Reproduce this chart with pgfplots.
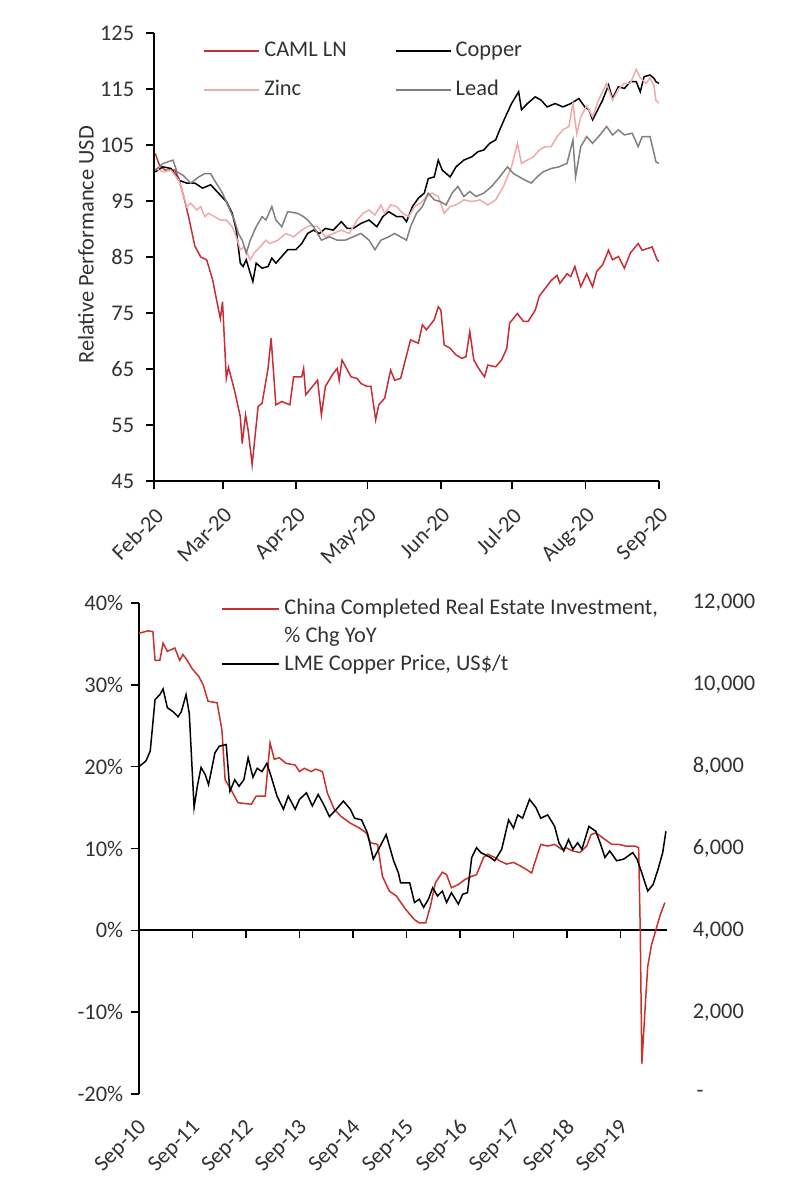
\documentclass[border=0pt]{standalone}
\usepackage{pgfplots}
\pgfplotsset{compat=1.18}
\usepackage{fontspec}
\setmainfont{Carlito}
\definecolor{camlred}{RGB}{200,45,55}
\definecolor{zincpink}{RGB}{240,170,170}
\definecolor{leadgrey}{RGB}{128,128,128}
\definecolor{rered}{RGB}{200,50,40}
\definecolor{txt}{RGB}{50,50,50}
\begin{document}
\begin{tikzpicture}
\fontsize{11.2}{13.5}\selectfont
\path[use as bounding box] (0,0) rectangle (405pt,600pt);
% ---------------- top chart ----------------
\begin{axis}[
  at={(77pt,359.5pt)}, anchor=south west,
  width=252.5pt, height=224pt, scale only axis,
  xmin=0, xmax=213, ymin=45, ymax=125,
  axis x line=bottom, axis y line=left,
  axis line style={-, line width=1pt, black},
  xtick={0,29,60,90,121,151,182,213},
  xticklabels={Feb-20,Mar-20,Apr-20,May-20,Jun-20,Jul-20,Aug-20,Sep-20},
  ytick={45,55,...,125},
  /pgf/number format/assume math mode=true,
  tick align=outside, major tick length=4pt,
  tick style={black, line width=0.8pt},
  every tick label/.append style={font=\fontsize{11.2}{13.5}\selectfont, text=txt},
  xticklabel style={yshift=-7pt, rotate=45, anchor=north east, inner sep=1pt},
  yticklabel style={xshift=-2pt},
  ylabel={Relative Performance USD},
  ylabel style={at={(axis description cs:-0.135,0.527)}, anchor=center, font=\fontsize{11.2}{13.5}\selectfont, text=txt},
  legend columns=2,
  legend cell align=left,
  legend style={at={(axis description cs:0.085,0.998)}, anchor=north west, draw=none, fill=none,
    font=\fontsize{11.2}{13.5}\selectfont, text=txt,
    /tikz/every even column/.append style={column sep=22pt},
    row sep=6pt},
  legend image code/.code={\draw[#1, line width=1pt] (0pt,0pt) -- (27.5pt,0pt);},
  every axis plot/.append style={line width=0.75pt},
  clip=true,
]
\addplot[camlred] coordinates {(0.5,103.5)(2.2,101.5)(4.7,100.5)(8.8,100.5)(10.5,99)(13,95)(14.7,92)(17.2,87)(19.7,85)(22.2,84.5)(24.7,81)(26.4,77.3)(28,74)(28.9,77)(30.5,63.3)(31.4,65.3)(33.9,61.3)(36.4,56.5)(37.2,51.7)(38.6,56.8)(39.7,54.1)(41.4,47.9)(43.9,58.3)(45.6,58.9)(48.1,65.1)(49.4,70.5)(51.4,58.6)(53.9,59.2)(57.3,58.6)(58.9,63.6)(62.3,63.6)(63.1,65.1)(64,60.4)(69,63)(70.6,56.8)(72.3,61.9)(75.6,64.2)(77.3,65.1)(78.1,63)(79.3,66.6)(83.1,63.6)(85.7,63.3)(87.3,62.4)(89.8,61.9)(91.5,61.9)(93.5,55.9)(94.8,58.6)(97.3,59.8)(99.8,64.8)(101.5,63)(104,63.3)(108.2,70.2)(111.5,69.6)(113.2,72.9)(114.9,72)(118.2,73.8)(119.9,76.1)(121,75.5)(122.4,69.3)(124.9,68.7)(127.4,67.5)(129.9,66.9)(131.6,67.2)(133.2,71.7)(134.9,66.6)(137.4,64.8)(139.4,63.6)(140.8,65.7)(144.1,65.4)(146.6,66.6)(148.8,68.7)(150,73.2)(153.3,74.9)(155.8,73.5)(157.8,73.5)(160.8,75.5)(162.5,78)(165,79.4)(167.5,80.8)(170,81.7)(171.2,80.3)(174.2,82)(175.8,81.5)(177.5,83.3)(180,79.7)(182.5,82)(185,79.7)(186.7,82.4)(189.2,83.6)(191.7,86.2)(193.4,84.5)(195.9,85.1)(198.4,83)(200.9,85.7)(204.2,87.4)(205.9,86.2)(210.1,86.8)(212.2,84.5)(213,84.2)};
\addlegendentry{CAML LN}
\addplot[black] coordinates {(0.5,100.2)(3.8,101.1)(7.2,100.8)(10.5,98.7)(13.8,98.2)(17.2,98.2)(20.5,97.3)(23.9,97.9)(27.2,96.4)(30.5,94.9)(33,92.8)(34.7,89.8)(36.4,83.9)(37.6,83.3)(38.9,84.5)(40.6,82.1)(41.7,80.6)(43.1,83.9)(45.6,83)(48.1,83.3)(49.7,84.8)(51.4,83.9)(53.9,85.1)(56.4,86.3)(59.8,86.3)(62.3,87.4)(64.8,89.2)(67.3,89.8)(69.8,89.2)(72.3,90.1)(75.6,89.8)(79,91.3)(81.5,90.1)(84,90.1)(87.3,91)(90.7,91.6)(94,90.4)(96.5,92.2)(99,93.1)(102.4,92.2)(104.9,92.2)(106.5,91.3)(109,94)(111.5,95.5)(114,96.4)(115.7,99)(118.2,99.3)(119.9,102.3)(121.6,100.5)(124.9,99.3)(127.4,101.1)(130.7,102.3)(134.1,102.9)(136.6,103.8)(139.1,104.1)(141.6,105.3)(144.1,105.9)(145.8,107.7)(148.3,110.1)(150.8,112.4)(153.8,114.5)(155,111.3)(157.5,112.4)(160.8,113.6)(163.3,113)(165.8,111.8)(169.2,112.4)(172.5,111.8)(175.8,112.4)(179.2,113.3)(181.7,111.8)(183.4,111.3)(185,109.5)(186.7,110.9)(189.2,113)(191.7,115.7)(193.4,113.3)(195.9,115.4)(198.4,115.1)(200.9,116.3)(203.4,116.3)(205.1,114.5)(206.7,117.2)(209.2,117.5)(210.9,116.9)(211.7,116.3)(213,116)};
\addlegendentry{Copper}
\addplot[zincpink] coordinates {(0.5,100.8)(3.8,100.2)(7.2,100.5)(10.5,98.7)(12.2,96.4)(13.8,94)(15.5,94.6)(18,93.4)(19.7,94)(21.4,92.2)(23,92.8)(25.5,92.2)(28,91.6)(30.5,91.6)(33,90.4)(34.7,88.6)(36.4,86.3)(38.1,86.8)(40.6,84.5)(42.2,85.7)(44.7,86.8)(47.2,88)(48.9,87.4)(52.3,88)(55.6,89.2)(58.9,88.6)(62.3,89.8)(65.6,90.6)(69,90.4)(72.3,88.6)(75.6,89.2)(79,89.8)(82.3,89.2)(85.7,91.6)(88.2,92.8)(90.7,93.4)(93.2,92.5)(95.7,94.3)(97.3,92.8)(99.8,94.3)(102.4,94)(104.9,92.8)(107.4,92.2)(109.9,94)(112.4,94.6)(114.9,95.8)(117.4,96.4)(119.9,95.8)(122.4,92.8)(124.9,94)(127.4,94.3)(130.7,95.2)(134.1,94.9)(137.4,95.2)(140.8,94.3)(144.1,95.2)(147.4,97.6)(150.8,101.1)(153.3,105.3)(155,101.7)(157.5,102.3)(160,102.9)(162.5,104.1)(165,104.7)(167.5,104.7)(170,106.5)(172.5,107.7)(175,108.3)(176.7,112.4)(178.3,107)(180,110)(182.5,112)(185,110)(187.5,113)(190.9,116)(193.4,113)(195.9,115)(198.4,116)(200.9,116)(203.4,118.5)(205.1,117)(207.6,116)(209.2,117)(210.9,115.5)(211.7,113)(213,112.5)};
\addlegendentry{Zinc}
\addplot[leadgrey] coordinates {(0.5,100.5)(3.8,101.7)(8,102.3)(9.7,100.2)(12.2,99.6)(15.5,98.2)(18.9,99.3)(21.4,99.9)(23.9,99.9)(25.5,98.7)(28.9,96.4)(31.4,94)(33.9,91.6)(35.6,89.2)(37.2,88)(38.9,85.7)(40.6,88)(43.1,90.4)(45.6,92.2)(47.2,91.6)(49.7,94)(51.4,91.6)(53.9,90.4)(56.4,93.1)(60.6,92.8)(63.1,92.2)(64.8,91.6)(67.3,90.4)(70.6,88)(74,88.6)(77.3,88)(80.6,88)(84,88.6)(87.3,89.2)(90.7,88)(93.2,86.3)(95.7,88)(99,88.6)(101.5,89.2)(104,88.6)(106.5,88)(108.2,90.4)(110.7,92.8)(113.2,94)(115.7,96.4)(118.2,95.2)(120.7,94.9)(123.2,94.3)(125.7,96.4)(128.2,97.6)(130.7,95.8)(133.2,96.7)(135.8,95.8)(139.1,96.4)(142.4,97.6)(145.8,99.3)(149.1,101.1)(151.6,99.9)(154.1,99.3)(156.6,98.7)(159.1,98.2)(161.6,99.3)(164.1,100.2)(167.5,100.8)(170.8,101.1)(174.2,101.7)(176.7,105.9)(177.8,99.3)(180,104.7)(182.5,106.5)(185,105.3)(187.5,106.5)(190.9,108.3)(193.4,106.8)(195.9,107.7)(198.4,106.8)(201.7,107.1)(204.2,104.7)(205.9,106.5)(209.2,106.5)(210.9,103.5)(211.7,102)(213,101.7)};
\addlegendentry{Lead}
\end{axis}
% ---------------- bottom chart, left axis ----------------
\begin{axis}[
  at={(69.5pt,53pt)}, anchor=south west,
  width=264pt, height=245.5pt, scale only axis,
  xmin=0, xmax=9.87, ymin=-20, ymax=40,
  axis x line=middle, axis y line=left,
  axis line style={-, line width=1pt, black},
  hide obscured x ticks=false,
  xtick={0,...,9},
  xticklabels={Sep-10,Sep-11,Sep-12,Sep-13,Sep-14,Sep-15,Sep-16,Sep-17,Sep-18,Sep-19},
  ytick={-20,-10,...,40},
  yticklabels={-20\%,-10\%,0\%,10\%,20\%,30\%,40\%},
  tick align=outside, major tick length=4pt,
  tick style={black, line width=0.8pt},
  every tick label/.append style={font=\fontsize{11.2}{13.5}\selectfont, text=txt},
  xticklabel style={yshift=-88pt, xshift=-1pt, rotate=45, anchor=north east, inner sep=1pt},
  legend cell align=left,
  legend style={at={(axis description cs:0.144,1.025)}, anchor=north west, draw=none, fill=none,
    font=\fontsize{11.2}{13.5}\selectfont, text=txt, row sep=0.5pt},
  legend image code/.code={\draw[#1, line width=1pt] (0pt,0pt) -- (28.5pt,0pt);},
  every axis plot/.append style={line width=0.75pt},
]
\addplot[rered] coordinates {(0,36.3)(0.17,36.6)(0.26,36.5)(0.30,33)(0.39,33)(0.45,35.1)(0.53,34.1)(0.60,34.3)(0.67,34.5)(0.76,33)(0.82,33.7)(0.90,33)(0.99,32)(1.12,31)(1.20,30)(1.29,28)(1.46,27.8)(1.55,24.5)(1.61,18.4)(1.72,17.2)(1.85,15.6)(2.10,15.4)(2.19,16.4)(2.36,16.4)(2.45,22.9)(2.53,20.9)(2.62,21.1)(2.75,20.4)(2.92,20.2)(3.00,19.4)(3.09,19.8)(3.22,19.4)(3.30,19.7)(3.43,19.4)(3.52,16.8)(3.65,14.8)(3.78,13.9)(3.95,13.1)(4.12,12.5)(4.25,11.9)(4.33,10.7)(4.46,10.5)(4.55,6.6)(4.68,4.8)(4.81,4.2)(4.98,2.6)(5.15,1.3)(5.24,0.9)(5.36,0.9)(5.45,3.0)(5.54,5.8)(5.67,7.1)(5.75,6.8)(5.84,5.2)(5.97,5.6)(6.09,6.2)(6.22,6.6)(6.31,6.8)(6.44,8.9)(6.52,9.3)(6.65,8.9)(6.74,8.5)(6.87,8.1)(7.00,8.3)(7.12,7.9)(7.25,7.4)(7.34,7.0)(7.38,7.9)(7.51,10.5)(7.64,10.3)(7.77,10.5)(7.90,9.9)(7.98,10.1)(8.11,9.7)(8.24,9.5)(8.37,10.3)(8.45,11.7)(8.54,11.9)(8.63,11.5)(8.71,11.1)(8.84,10.5)(8.97,10.5)(9.10,10.3)(9.27,10.3)(9.34,10.1)(9.37,0)(9.40,-16.3)(9.46,-9.6)(9.51,-4.4)(9.58,-1.8)(9.66,0)(9.74,1.8)(9.83,3.4)};
\addlegendentry{China Completed Real Estate Investment,}
\addlegendimage{empty legend}
\addlegendentry{\% Chg YoY}
\addlegendimage{black, line width=0.75pt}
\addlegendentry{LME Copper Price, US\$/t}
\end{axis}
% ---------------- bottom chart, right axis ----------------
\begin{axis}[
  at={(69.5pt,53pt)}, anchor=south west,
  width=264pt, height=245.5pt, scale only axis,
  xmin=0, xmax=9.87, ymin=0, ymax=12000,
  axis x line=none, axis y line*=right,
  y axis line style={draw=none},
  scaled y ticks=false,
  ytick={0,2000,4000,6000,8000,10000,12000},
  yticklabels={{\,-},{2,000},{4,000},{6,000},{8,000},{10,000},{12,000}},
  major tick length=0pt,
  every tick label/.append style={font=\fontsize{11.2}{13.5}\selectfont, text=txt},
  yticklabel style={anchor=west, xshift=9pt},
  every axis plot/.append style={line width=0.75pt},
]
\addplot[black] coordinates {(0,8000)(0.13,8140)(0.21,8380)(0.30,9640)(0.39,9760)(0.45,9900)(0.53,9440)(0.64,9340)(0.73,9220)(0.79,9340)(0.88,9760)(0.94,9300)(1.03,7000)(1.09,7520)(1.16,7980)(1.24,7800)(1.30,7560)(1.42,8340)(1.50,8500)(1.63,8540)(1.70,7400)(1.79,7680)(1.87,7520)(1.96,7680)(2.04,8220)(2.13,7740)(2.21,7960)(2.30,7880)(2.39,8080)(2.47,7760)(2.58,7280)(2.70,6960)(2.79,7280)(2.92,6960)(3.00,7200)(3.13,7360)(3.24,7040)(3.35,7320)(3.45,7080)(3.56,6780)(3.69,6960)(3.82,7160)(3.95,6960)(4.03,6740)(4.16,6700)(4.27,6380)(4.38,5740)(4.51,6060)(4.62,6340)(4.76,5700)(4.85,5400)(4.89,5160)(5.06,5160)(5.15,4680)(5.24,4760)(5.32,4560)(5.41,4760)(5.49,5040)(5.58,4840)(5.67,4960)(5.75,4680)(5.84,4920)(5.97,4640)(6.05,4880)(6.14,4920)(6.22,5780)(6.31,6020)(6.39,5900)(6.57,5780)(6.65,5700)(6.78,5980)(6.91,6700)(7.00,6500)(7.08,6820)(7.17,6740)(7.30,7200)(7.42,7000)(7.51,6740)(7.64,6820)(7.77,6540)(7.85,6140)(7.94,5940)(8.03,6220)(8.11,5980)(8.20,6140)(8.28,5980)(8.41,6540)(8.54,6420)(8.63,6100)(8.71,5780)(8.80,5940)(8.93,5700)(9.06,5740)(9.23,5900)(9.31,5740)(9.40,5400)(9.51,4960)(9.61,5120)(9.70,5480)(9.79,5900)(9.85,6420)};
\end{axis}
\end{tikzpicture}
\end{document}
